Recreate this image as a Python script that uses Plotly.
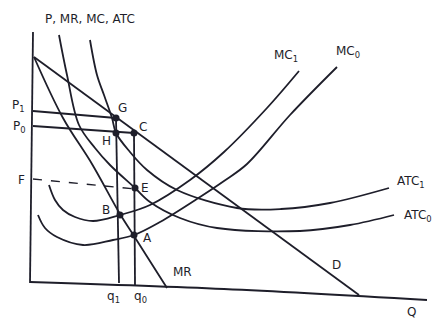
import plotly.graph_objects as go

# ---- curve data (diagram units: Q to the right, P downward in screen units) ----
axis_v_q = [33, 30]
axis_v_p = [32, 283]
axis_h_q = [30, 224, 427]
axis_h_p = [282, 289, 300]

demand_q = [34, 359]
demand_p = [57, 295]

mr_q = [34, 63, 92, 120, 134, 167]
mr_p = [57, 118, 164, 214, 236, 288]

atc1_q = [90, 97, 104, 112, 116, 130, 147, 177, 237, 281, 330, 389]
atc1_p = [40, 75, 95, 118, 133, 152, 170, 190, 208, 209, 203, 188]

atc0_q = [59, 67, 79, 95, 110, 135, 150, 180, 217, 300, 350, 394]
atc0_p = [35, 75, 125, 148, 165, 188, 202, 218, 228, 231, 225, 215]

mc1_q = [49, 55, 63, 75, 93, 120, 150, 190, 224, 267, 299]
mc1_p = [185, 200, 210, 217, 221, 215, 205, 180, 152, 108, 71]

mc0_q = [38, 45, 57, 83, 113, 134, 160, 200, 224, 247, 290, 337]
mc0_p = [215, 228, 237, 245, 240, 235, 222, 197, 181, 164, 115, 67]

q1_line_q = [116, 119]
q1_line_p = [118, 283]
q0_line_q = [134, 135]
q0_line_p = [133, 285]

p1_line_q = [33, 116]
p1_line_p = [111, 118]
p0_line_q = [33, 134]
p0_line_p = [126, 133]
f_line_q = [33, 135]
f_line_p = [179, 189]

point_names = ["G", "H", "C", "E", "B", "A"]
point_q = [116, 116, 134, 135, 120, 134]
point_p = [118, 133, 133, 188, 215, 235]

label_texts = ["P, MR, MC, ATC", "P<sub>1</sub>", "P<sub>0</sub>", "F",
               "G", "H", "C", "E", "B", "A", "MR", "q<sub>1</sub>", "q<sub>0</sub>",
               "D", "Q", "ATC<sub>1</sub>", "ATC<sub>0</sub>", "MC<sub>1</sub>", "MC<sub>0</sub>"]
label_q = [90, 18, 19, 21, 122, 106, 143, 145, 106, 147, 182, 113, 140,
           336, 411, 411, 418, 286, 348]
label_p = [19, 106, 127, 180, 108, 141, 127, 188, 210, 238, 272, 297, 297,
           265, 312, 182, 216, 56, 52]

INK = "#1e1e2a"

fig = go.Figure()


def add_line(q, p, spline=False, dash="solid", width=1.8):
    fig.add_trace(go.Scatter(
        x=q, y=p, mode="lines",
        line=dict(color=INK, width=width, dash=dash,
                  shape="spline" if spline else "linear", smoothing=1.0),
        hoverinfo="skip", showlegend=False))


add_line(axis_v_q, axis_v_p)
add_line(axis_h_q, axis_h_p, spline=True)
add_line(demand_q, demand_p)
add_line(mr_q, mr_p, spline=True)
add_line(atc1_q, atc1_p, spline=True)
add_line(atc0_q, atc0_p, spline=True)
add_line(mc1_q, mc1_p, spline=True)
add_line(mc0_q, mc0_p, spline=True)
add_line(q1_line_q, q1_line_p)
add_line(q0_line_q, q0_line_p)
add_line(p1_line_q, p1_line_p)
add_line(p0_line_q, p0_line_p)
add_line(f_line_q, f_line_p, dash="dash", width=1.4)

fig.add_trace(go.Scatter(
    x=point_q, y=point_p, mode="markers",
    marker=dict(color=INK, size=7),
    text=point_names, hoverinfo="text", showlegend=False))

for t, q, p in zip(label_texts, label_q, label_p):
    fig.add_annotation(x=q, y=p, text=t, showarrow=False,
                       font=dict(family="DejaVu Sans", size=12, color=INK),
                       xanchor="center", yanchor="middle")

fig.update_layout(
    width=448, height=330,
    margin=dict(l=0, r=0, t=0, b=0),
    paper_bgcolor="white", plot_bgcolor="white",
    xaxis=dict(range=[0, 448], visible=False, fixedrange=True),
    yaxis=dict(range=[330, 0], visible=False, fixedrange=True),
)

fig.write_html("out.html")
